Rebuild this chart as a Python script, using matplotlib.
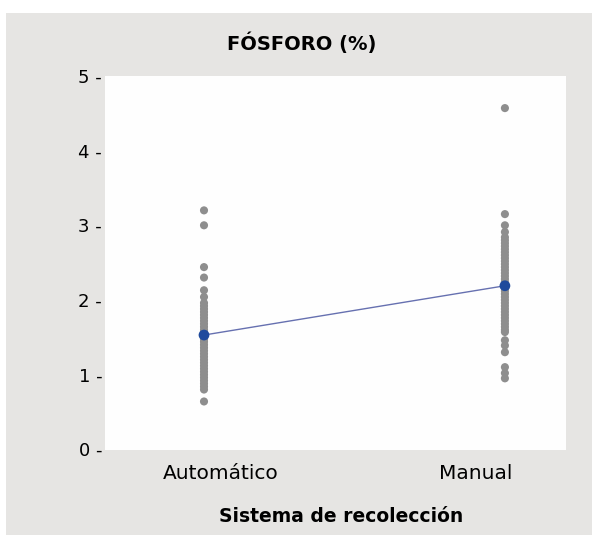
import matplotlib
matplotlib.use('Agg')
import matplotlib.pyplot as plt
from matplotlib.patches import Rectangle
from matplotlib.transforms import ScaledTranslation

# Fósforo (%) por sistema de recolección
categorias = ['Automático', 'Manual']

automatico = [3.20, 3.00, 2.44, 2.30, 2.13, 2.04, 1.96, 1.92, 1.88, 1.84, 1.80,
              1.76, 1.72, 1.68, 1.64, 1.60, 1.57, 1.54, 1.50, 1.47, 1.44, 1.40,
              1.36, 1.32, 1.28, 1.24, 1.20, 1.16, 1.12, 1.08, 1.04, 1.00, 0.96,
              0.92, 0.88, 0.84, 0.80, 0.64]

manual = [4.57, 3.15, 3.00, 2.91, 2.84, 2.80, 2.76, 2.72, 2.68, 2.64, 2.60,
          2.56, 2.52, 2.48, 2.44, 2.40, 2.36, 2.32, 2.28, 2.24, 2.20, 2.16,
          2.12, 2.08, 2.04, 2.00, 1.96, 1.92, 1.88, 1.84, 1.80, 1.76, 1.72,
          1.68, 1.64, 1.60, 1.57, 1.46, 1.39, 1.30, 1.10, 1.02, 0.95]

medias = [1.53, 2.19]

yticks = [0, 1, 2, 3, 4, 5]

fig = plt.figure(figsize=(5.92, 5.35), dpi=100, facecolor='white')
# panel gris de fondo
fig.add_artist(Rectangle((6 / 592, 0), 1, 522 / 535, transform=fig.transFigure,
                         facecolor='#e6e5e3', edgecolor='none', zorder=-10))

ax = fig.add_axes([105 / 592, 85 / 535, 461 / 592, 374 / 535])
ax.set_facecolor('#fefefe')
for s in ax.spines.values():
    s.set_visible(False)

ax.scatter([0] * len(automatico), automatico, s=34, color='#8e8e8e', edgecolors='none', zorder=2)
ax.scatter([1] * len(manual), manual, s=34, color='#8e8e8e', edgecolors='none', zorder=2)

ax.plot([0, 1], medias, color='#6670b0', linewidth=1.0, zorder=3)
ax.scatter([0, 1], medias, s=60, color='#1f4a9c', edgecolors='none', zorder=4)

ax.set_xlim(-0.329, 1.203)
ax.set_ylim(-0.01, 5)

ax.set_yticks(yticks)
ax.set_yticklabels([f'{v} -' for v in yticks], fontsize=13)
ax.tick_params(axis='y', length=0, pad=2)

ax.set_xticks([0, 1])
ax.set_xticklabels(categorias, fontsize=14.5)
ax.tick_params(axis='x', length=0, pad=10)
# etiquetas del eje x algo desplazadas respecto a los puntos
for lab, dx in zip(ax.get_xticklabels(), [17, -29]):
    lab.set_transform(lab.get_transform() + ScaledTranslation(dx / 100, 0, fig.dpi_scale_trans))

# título y rótulo del eje
fig.text(302 / 592, 1 - 43 / 535, 'FÓSFORO (%)', fontsize=14, fontweight='bold',
         ha='center', va='center')
fig.text(341 / 592, 1 - 517 / 535, 'Sistema de recolección', fontsize=13.5, fontweight='bold',
         ha='center', va='center')

plt.savefig('out.png', dpi=100, facecolor=fig.get_facecolor())
